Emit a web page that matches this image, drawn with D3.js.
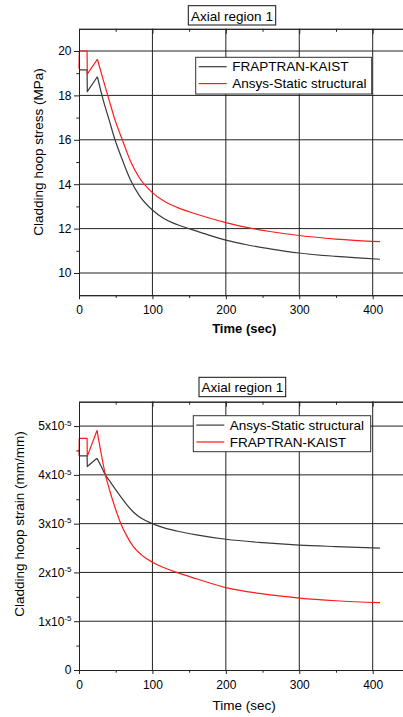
<!DOCTYPE html>
<html>
<head>
<meta charset="utf-8">
<script src="https://cdn.jsdelivr.net/npm/d3@7"></script>
<style>
  body { margin: 0; background: #fff; }
  svg { display: block; }
  text { font-family: "Liberation Sans", Arial, sans-serif; fill: #000; }
</style>
</head>
<body>
<svg id="fig" width="403" height="717"></svg>
<script>
// ---- Cladding hoop stress (MPa), axial region 1 ----
const stressTime     = [0, 0.4, 11, 11.3, 25, 33, 41, 49, 59, 70, 82, 100, 115, 127, 136, 150, 175, 200, 230, 260, 300, 350, 410];
const stressFraptran = [19.15, 19.15, 19.15, 18.17, 18.84, 17.79, 16.9, 16.0, 15.1, 14.2, 13.5, 12.84, 12.47, 12.27, 12.15, 12.0, 11.73, 11.48, 11.26, 11.09, 10.9, 10.75, 10.62];
const stressAnsys    = [19.2, 20.0, 20.0, 18.96, 19.63, 18.7, 17.79, 16.9, 16.0, 15.05, 14.3, 13.62, 13.25, 13.05, 12.92, 12.76, 12.5, 12.27, 12.04, 11.87, 11.69, 11.53, 11.41];
const stressTicks      = [10, 12, 14, 16, 18, 20];
const stressMinorTicks = [11, 13, 15, 17, 19];
const stressRampEnd = 25;

// ---- Cladding hoop strain (x10^-5 mm/mm), axial region 1 ----
const strainTime     = [0, 0.4, 11, 11.3, 24.5, 30, 36, 42, 48, 57, 65, 74, 85, 100, 115, 133, 160, 200, 250, 300, 350, 410];
const strainAnsys    = [4.39, 4.39, 4.39, 4.17, 4.34, 4.18, 4.0, 3.87, 3.74, 3.55, 3.39, 3.24, 3.11, 3.0, 2.92, 2.85, 2.77, 2.68, 2.61, 2.56, 2.53, 2.50];
const strainFraptran = [4.39, 4.75, 4.75, 4.38, 4.91, 4.45, 4.0, 3.67, 3.38, 3.0, 2.75, 2.53, 2.36, 2.21, 2.1, 2.0, 1.87, 1.69, 1.56, 1.475, 1.42, 1.38];
const strainTicks      = [0, 1, 2, 3, 4, 5];
const strainMinorTicks = [0.5, 1.5, 2.5, 3.5, 4.5];
const strainRampEnd = 24.5;

const timeTicks      = [0, 100, 200, 300, 400];
const timeMinorTicks = [50, 150, 250, 350];

const BLACK = "#3a3a3a", RED = "#ff1a1a", AXIS = "#222";
const svg = d3.select("#fig");
svg.append("rect").attr("width", 403).attr("height", 717).attr("fill", "#fff");

function panel(o) {
  const g = svg.append("g");
  const x = d3.scaleLinear().domain([0, 450]).range([79, 409.4]);
  const y = d3.scaleLinear().domain(o.yDomain).range([o.bottom, o.top]);
  const [xl, xr] = x.range();

  // grid
  g.append("g").selectAll("line")
    .data(o.yTicks.filter(v => v > o.yDomain[0])).join("line")
    .attr("x1", xl).attr("x2", xr)
    .attr("y1", d => y(d)).attr("y2", d => y(d))
    .attr("stroke", AXIS).attr("stroke-width", 1);
  g.append("g").selectAll("line")
    .data(timeTicks.filter(v => v > 0)).join("line")
    .attr("x1", d => x(d)).attr("x2", d => x(d))
    .attr("y1", o.top).attr("y2", o.bottom)
    .attr("stroke", AXIS).attr("stroke-width", 1);

  // series: straight ramp segments, then the smooth decay
  o.series.forEach(s => {
    const pts = o.time.map((t, i) => [t, s.values[i]]);
    const ramp = pts.filter(p => p[0] <= o.rampEnd);
    const decay = pts.filter(p => p[0] >= o.rampEnd);
    const lin = d3.line().x(p => x(p[0])).y(p => y(p[1])).curve(d3.curveLinear);
    const smooth = d3.line().x(p => x(p[0])).y(p => y(p[1])).curve(d3.curveMonotoneX);
    [lin(ramp), smooth(decay)].forEach(dp =>
      g.append("path").attr("d", dp).attr("fill", "none")
        .attr("stroke", s.color).attr("stroke-width", 1.2)
        .attr("stroke-linejoin", "round"));
  });

  // axes
  const styleAxis = sel => {
    sel.selectAll("path.domain").attr("stroke", AXIS);
    sel.selectAll(".tick line").attr("stroke", AXIS);
    sel.selectAll(".tick text").attr("font-size", 12).attr("fill", "#000")
      .attr("font-family", '"Liberation Sans", Arial, sans-serif');
  };
  g.append("g").attr("transform", `translate(0,${o.bottom})`)
    .call(d3.axisBottom(x).tickValues(timeTicks).tickSize(4).tickSizeOuter(0).tickPadding(6))
    .call(styleAxis);
  g.append("g").attr("transform", `translate(0,${o.bottom})`)
    .call(d3.axisBottom(x).tickValues(timeMinorTicks).tickSize(2.7).tickSizeOuter(0).tickFormat(""))
    .call(styleAxis);
  g.append("g").attr("transform", `translate(0,${o.top})`)
    .call(d3.axisTop(x).tickValues(timeTicks).tickSize(-5).tickSizeOuter(0).tickFormat(""))
    .call(styleAxis);
  g.append("g").attr("transform", `translate(0,${o.top})`)
    .call(d3.axisTop(x).tickValues(timeMinorTicks).tickSize(-3).tickSizeOuter(0).tickFormat(""))
    .call(styleAxis);
  const left = g.append("g").attr("transform", `translate(${xl},0)`)
    .call(d3.axisLeft(y).tickValues(o.yTicks).tickSize(5).tickSizeOuter(0).tickPadding(2.5)
      .tickFormat(o.tickText))
    .call(styleAxis);
  g.append("g").attr("transform", `translate(${xl},0)`)
    .call(d3.axisLeft(y).tickValues(o.yMinor).tickSize(2.7).tickSizeOuter(0).tickFormat(""))
    .call(styleAxis);
  if (o.tickSup) {
    left.selectAll(".tick text").filter(d => d !== 0)
      .append("tspan").attr("font-size", 8).attr("dy", "-4.5").text(o.tickSup);
  }

  // axis titles
  g.append("text").attr("x", x(225)).attr("y", o.xTitleY)
    .attr("text-anchor", "middle").attr("font-size", o.xTitleBold ? 13 : 13.5)
    .attr("font-weight", o.xTitleBold ? "bold" : "normal").text("Time (sec)");
  g.append("text").attr("transform", `translate(${o.yTitleX},${o.yTitleY}) rotate(-90)`)
    .attr("text-anchor", "middle").attr("font-size", 13.5).text(o.yTitle);

  // title box
  const tb = o.titleBox;
  g.append("rect").attr("x", tb.x).attr("y", tb.y).attr("width", tb.w).attr("height", tb.h)
    .attr("fill", "#fff").attr("stroke", "#111").attr("stroke-width", 1);
  g.append("text").attr("x", tb.x + tb.w / 2).attr("y", tb.y + 15)
    .attr("text-anchor", "middle").attr("font-size", 13.5).text("Axial region 1");

  // legend
  const lg = o.legend;
  g.append("rect").attr("x", lg.x).attr("y", lg.y).attr("width", lg.w).attr("height", lg.h)
    .attr("fill", "#fff").attr("stroke", "#333").attr("stroke-width", 1);
  o.series.forEach((s, i) => {
    const cy = lg.y + 9.4 + i * 16.9;
    g.append("line").attr("x1", lg.x + 3).attr("x2", lg.x + 31)
      .attr("y1", cy).attr("y2", cy).attr("stroke", s.color).attr("stroke-width", 1.2);
    g.append("text").attr("x", lg.x + 36.5).attr("y", cy + 4.7)
      .attr("font-size", 13.5).text(s.name);
  });
}

panel({
  top: 28.8, bottom: 295.2, yDomain: [9, 21],
  yTicks: stressTicks, yMinor: stressMinorTicks, tickText: d => String(d),
  time: stressTime, rampEnd: stressRampEnd,
  series: [
    { name: "FRAPTRAN-KAIST", values: stressFraptran, color: BLACK },
    { name: "Ansys-Static structural", values: stressAnsys, color: RED }
  ],
  xTitleY: 332.5, xTitleBold: true,
  yTitle: "Cladding hoop stress (MPa)", yTitleX: 43, yTitleY: 152,
  titleBox: { x: 188.3, y: 5.7, w: 87.4, h: 19.3 },
  legend: { x: 195.7, y: 57.3, w: 176, h: 36.7 }
});

panel({
  top: 401.7, bottom: 670, yDomain: [0, 5.5],
  yTicks: strainTicks, yMinor: strainMinorTicks,
  tickText: d => d === 0 ? "0" : d + "x10", tickSup: "-5",
  time: strainTime, rampEnd: strainRampEnd,
  series: [
    { name: "Ansys-Static structural", values: strainAnsys, color: BLACK },
    { name: "FRAPTRAN-KAIST", values: strainFraptran, color: RED }
  ],
  xTitleY: 710, xTitleBold: false,
  yTitle: "Cladding hoop strain (mm/mm)", yTitleX: 24, yTitleY: 524,
  titleBox: { x: 199, y: 377.3, w: 86.7, h: 19.4 },
  legend: { x: 193.3, y: 415.7, w: 177.4, h: 36 }
});
</script>
</body>
</html>
